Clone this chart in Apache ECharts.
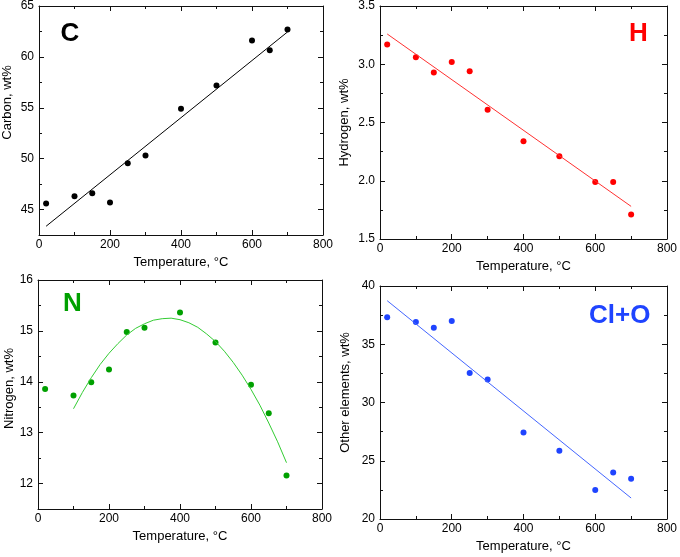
<!DOCTYPE html>
<html>
<head>
<meta charset="utf-8">
<script src="https://cdn.jsdelivr.net/npm/echarts@6/dist/echarts.min.js"></script>
</head>
<body style="margin:0;background:#fff">
<div id="chart" style="width:680px;height:557px"></div>
<script>
// ---- data ----
var temps = [20, 100, 150, 200, 250, 300, 400, 500, 600, 650, 700];
var carbon = [45.6, 46.3, 46.6, 45.7, 49.55, 50.3, 54.9, 57.2, 61.6, 60.65, 62.7];
var hydrogen = [3.17, 3.06, 2.93, 3.02, 2.94, 2.61, 2.34, 2.21, 1.99, 1.99, 1.71];
var nitrogen = [13.86, 13.73, 13.99, 14.24, 14.98, 15.06, 15.36, 14.77, 13.94, 13.38, 12.16];
var other = [37.32, 36.92, 36.41, 37.0, 32.53, 31.98, 27.42, 25.85, 22.48, 24.0, 23.45];

var lineFitX = [20, 700];
var carbonFit = [43.36, 62.45];
var hydrogenFit = [3.26, 1.78];
var otherFit = [38.74, 21.8];
var nitrogenFitX = [100, 125, 150, 175, 200, 225, 250, 275, 300, 325, 350, 375, 400,
  425, 450, 475, 500, 525, 550, 575, 600, 625, 650, 675, 700];
var nitrogenFit = [13.47, 13.79, 14.08, 14.34, 14.56, 14.75, 14.92, 15.05, 15.14, 15.21, 15.24, 15.25, 15.22,
  15.16, 15.07, 14.94, 14.79, 14.60, 14.38, 14.13, 13.85, 13.54, 13.19, 12.82, 12.41];

// ---- axis ranges / ticks ----
var xRange = [0, 800], xStep = 200;
var cRange = [42.5, 65], cMajorRange = [45, 65], cMajorStep = 5, cMinorStep = 2.5;
var hRange = [1.5, 3.5], hStep = 0.5;
var nRange = [11.5, 16], nMajorRange = [12, 16], nMajorStep = 1, nMinorStep = 0.5;
var oRange = [20, 40], oStep = 5;

var xTitle = 'Temperature, °C';
var panelLabels = ['C', 'H', 'N', 'Cl+O'];
var yTitles = ['Carbon, wt%', 'Hydrogen, wt%', 'Nitrogen, wt%', 'Other elements, wt%'];

// ---- layout / style ----
var FONT = 'Liberation Sans';
var AXC = '#111';
var MAJ = 5, MIN = 3;
var rects = [
  {left: 39, top: 6, width: 284, height: 229},
  {left: 380, top: 6, width: 290, height: 233},
  {left: 38, top: 280, width: 284, height: 229},
  {left: 380, top: 286, width: 290, height: 233}
];
function intFmt(v) { return String(v); }
function oneDec(v) { return v.toFixed(1); }
function everyN(n, fmt) {
  return function (v) {
    var q = v / n;
    return Math.abs(q - Math.round(q)) < 1e-6 ? fmt(v) : '';
  };
}
var yCfg = [
  {range: cRange, step: cMinorStep, split: false, majorRange: cMajorRange, majorStep: cMajorStep, fmt: everyN(cMajorStep, intFmt), gap: 25, lift: 36},
  {range: hRange, step: hStep, split: true, fmt: oneDec, gap: 29, lift: 0},
  {range: nRange, step: nMinorStep, split: false, majorRange: nMajorRange, majorStep: nMajorStep, fmt: everyN(nMajorStep, intFmt), gap: 20, lift: 12},
  {range: oRange, step: oStep, split: true, fmt: intFmt, gap: 28, lift: 20}
];
var colors = [
  {dot: '#000000', line: '#000000', label: '#000000'},
  {dot: '#ff0000', line: '#ff3030', label: '#ff0000'},
  {dot: '#00a000', line: '#33cc33', label: '#00a000'},
  {dot: '#1f44ff', line: '#4466ff', label: '#1f44ff'}
];
var labelPos = [
  {x: 60.5, y: 34}, {x: 629, y: 33.5}, {x: 63, y: 304}, {x: 589, y: 315.5}
];

var grids = [], xAxes = [], yAxes = [];

function axis(dim, gridIndex, pos, range, step, opts) {
  var a = {
    type: 'value', gridIndex: gridIndex, position: pos,
    min: range[0], max: range[1], interval: step,
    splitLine: {show: false},
    axisLine: {show: !!opts.line, onZero: false, lineStyle: {color: AXC, width: 1}},
    axisTick: {show: true, inside: true, length: opts.tickLen, lineStyle: {color: AXC, width: 1}},
    minorTick: {show: !!opts.minor, splitNumber: 2, length: MIN, lineStyle: {color: AXC, width: 1}},
    axisLabel: {show: false}
  };
  if (opts.hidden) a.show = false;
  if (opts.fmt) {
    a.axisLabel = {
      show: true, color: '#000', fontSize: 12, fontFamily: FONT,
      margin: dim === 'x' ? 4 : 5, formatter: opts.fmt,
      showMinLabel: true, showMaxLabel: true, hideOverlap: false
    };
  }
  if (opts.name) {
    a.name = opts.name;
    a.nameLocation = 'middle';
    a.nameGap = opts.nameGap;
    a.nameTextStyle = {color: '#000', fontSize: 13, fontFamily: FONT};
    if (dim === 'y') {
      a.nameRotate = 90;
      if (opts.lift) a.nameTextStyle.padding = [0, 0, 0, opts.lift];
    }
  }
  return a;
}

var mainIdx = [];
for (var i = 0; i < 4; i++) {
  var r = rects[i];
  var yc = yCfg[i];
  var gA = grids.length;
  grids.push({left: r.left, top: r.top, width: r.width, height: r.height});
  mainIdx.push({x: xAxes.length, y: yAxes.length});
  xAxes.push(axis('x', gA, 'bottom', xRange, xStep,
    {line: true, tickLen: MAJ, minor: true, fmt: intFmt, name: xTitle, nameGap: 21}));
  xAxes.push(axis('x', gA, 'top', xRange, xStep, {line: true, tickLen: MAJ, minor: true}));
  yAxes.push(axis('y', gA, 'left', yc.range, yc.step,
    {line: true, tickLen: yc.split ? MAJ : MIN, minor: yc.split, fmt: yc.fmt, name: yTitles[i], nameGap: yc.gap, lift: yc.lift}));
  yAxes.push(axis('y', gA, 'right', yc.range, yc.step, {line: true, tickLen: yc.split ? MAJ : MIN, minor: yc.split}));
  if (!yc.split) {
    // overlay grid spanning only the major-tick range, for the longer major ticks
    var span = yc.range[1] - yc.range[0];
    var hB = r.height * (yc.majorRange[1] - yc.majorRange[0]) / span;
    var gB = grids.length;
    grids.push({left: r.left, top: r.top, width: r.width, height: hB});
    xAxes.push(axis('x', gB, 'bottom', xRange, xStep, {hidden: true, tickLen: 0}));
    yAxes.push(axis('y', gB, 'left', yc.majorRange, yc.majorStep, {tickLen: MAJ}));
    yAxes.push(axis('y', gB, 'right', yc.majorRange, yc.majorStep, {tickLen: MAJ}));
  }
}

function pairs(xs, ys) {
  var out = [];
  for (var k = 0; k < xs.length; k++) out.push([xs[k], ys[k]]);
  return out;
}

var pointSets = [carbon, hydrogen, nitrogen, other];
var fitSets = [
  {x: lineFitX, y: carbonFit},
  {x: lineFitX, y: hydrogenFit},
  {x: nitrogenFitX, y: nitrogenFit},
  {x: lineFitX, y: otherFit}
];

var series = [];
for (var j = 0; j < 4; j++) {
  series.push({
    type: 'line', xAxisIndex: mainIdx[j].x, yAxisIndex: mainIdx[j].y,
    data: pairs(fitSets[j].x, fitSets[j].y), smooth: false,
    showSymbol: false, symbol: 'none', silent: true,
    lineStyle: {color: colors[j].line, width: 1}
  });
  series.push({
    type: 'scatter', xAxisIndex: mainIdx[j].x, yAxisIndex: mainIdx[j].y,
    data: pairs(temps, pointSets[j]), symbol: 'circle', symbolSize: 6,
    itemStyle: {color: colors[j].dot, opacity: 1}
  });
}

var graphics = [];
for (var m = 0; m < 4; m++) {
  graphics.push({
    type: 'text', x: labelPos[m].x, y: labelPos[m].y,
    style: {text: panelLabels[m], fill: colors[m].label, font: 'bold 26px ' + FONT,
      align: 'left', verticalAlign: 'middle'}
  });
}

var chart = echarts.init(document.getElementById('chart'));
chart.setOption({
  animation: false,
  backgroundColor: '#ffffff',
  grid: grids,
  xAxis: xAxes,
  yAxis: yAxes,
  series: series,
  graphic: graphics
});
</script>
</body>
</html>
